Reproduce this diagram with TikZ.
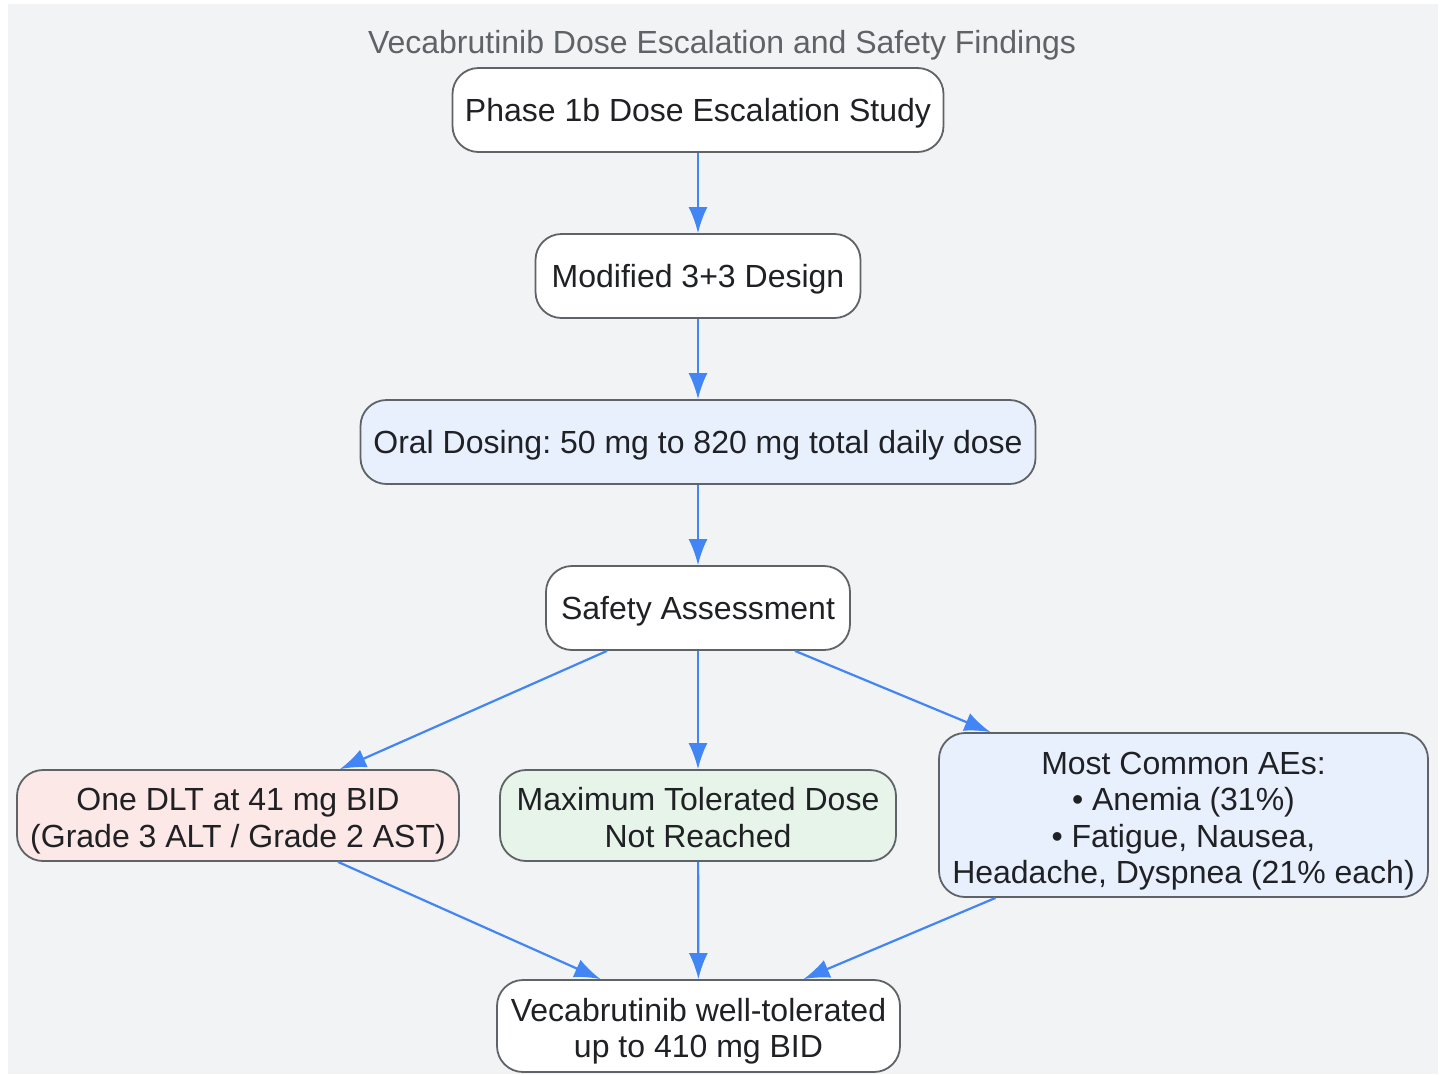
\documentclass[tikz,border=0pt]{standalone}
\usepackage{fontspec}
\setmainfont{Liberation Sans}
\usepackage{tikz}
\usetikzlibrary{arrows.meta,positioning}
\frenchspacing
\definecolor{bggray}{HTML}{F1F3F4}
\definecolor{edgeblue}{HTML}{4285F4}
\definecolor{boxline}{HTML}{5F6368}
\definecolor{titlegray}{HTML}{5F6368}
\definecolor{txt}{HTML}{202124}
\definecolor{fillblue}{HTML}{E8F0FE}
\definecolor{fillred}{HTML}{FCE8E6}
\definecolor{fillgreen}{HTML}{E6F4EA}
\newcommand\linestrut[1][36.5pt]{\rule[-7.1pt]{0pt}{#1}}

\begin{document}
\begin{tikzpicture}[x=1pt,y=-1pt,->,>={Latex[length=26pt,width=19pt]},
  every edge/.style={draw=edgeblue,line width=2.2pt},
  big text/.style={font=\fontsize{32}{36.5}\selectfont,
    execute at begin node=\linestrut,execute at end node=\linestrut},
  main node/.style={rectangle,rounded corners=26pt,draw=boxline,line width=1.8pt,
    fill=white,text=txt,align=center,inner sep=0pt,big text,minimum height=84pt}]

  % canvas
  \fill[white] (0,0) rectangle (1445,1074);
  \fill[bggray] (8,4) rectangle (1438,1074);
  \useasboundingbox (0,0) rectangle (1445,1074);

  \node[text=titlegray,big text,inner sep=0pt] (title) at (722,42)
    {Vecabrutinib Dose Escalation and Safety Findings};

  \node[main node,minimum width=491pt] (study) at (698,110) {Phase 1b Dose Escalation Study};
  \node[main node,minimum width=325pt] (design) at (698,276) {Modified 3+3 Design};
  \node[main node,minimum width=675pt,fill=fillblue] (dosing) at (698,442)
    {Oral Dosing: 50 mg to 820 mg total daily dose};
  \node[main node,minimum width=304pt] (safety) at (698,608) {Safety Assessment};

  \node[main node,minimum width=442pt,minimum height=91pt,fill=fillred] (dlt) at (238,815.5)
    {\linestrut[41.4pt]One DLT at 41 mg BID\\(Grade 3 ALT / Grade 2 AST)\linestrut[29.4pt]};
  \node[main node,minimum width=396pt,minimum height=91pt,fill=fillgreen] (mtd) at (698,815.5)
    {\linestrut[41.4pt]Maximum Tolerated Dose\\Not Reached\linestrut[29.4pt]};
  \node[main node,minimum width=489pt,minimum height=164pt,fill=fillblue] (aes) at (1183.5,815)
    {\linestrut[42.4pt]Most Common AEs:\\\textbullet\ Anemia (31\%)\\\textbullet\ Fatigue, Nausea,\\Headache, Dyspnea (21\% each)\linestrut[29.4pt]};

  \node[main node,minimum width=403pt,minimum height=92pt] (result) at (698.5,1026)
    {\linestrut[41.4pt]Vecabrutinib well-tolerated\\up to 410 mg BID\linestrut[29.4pt]};

  \path
    (study) edge (design)
    (design) edge (dosing)
    (dosing) edge (safety)
    (safety) edge (mtd)
    ([xshift=-91pt]safety.south) edge ([xshift=102pt]dlt.north)
    ([xshift=97pt]safety.south) edge ([xshift=-193pt]aes.north)
    ([xshift=100pt]dlt.south) edge ([xshift=-98pt]result.north)
    (mtd) edge (result)
    ([xshift=-188pt]aes.south) edge ([xshift=105pt]result.north);
\end{tikzpicture}
\end{document}
